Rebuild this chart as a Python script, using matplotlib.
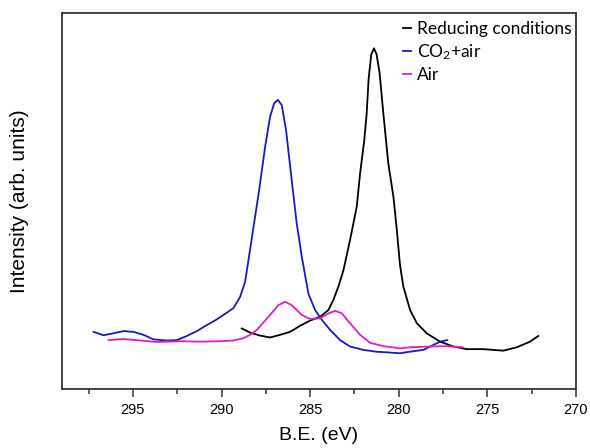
import matplotlib
matplotlib.use("Agg")
import matplotlib.pyplot as plt
from matplotlib.ticker import MultipleLocator, NullLocator

# ---- data ----
reducing_be = [288.86, 288.39, 287.82, 287.26, 286.70, 286.13, 285.57, 285.00, 284.44,
               283.97, 283.69, 283.41, 283.12, 282.75, 282.37, 282.18, 281.95, 281.81,
               281.70, 281.55, 281.40, 281.25, 281.08, 280.87, 280.59, 280.30, 280.11,
               279.93, 279.74, 279.36, 278.98, 278.42, 277.67, 276.92, 276.16, 275.23,
               274.10, 273.34, 272.59, 272.13]
reducing_int = [16.1, 15.0, 14.2, 13.7, 14.4, 15.2, 16.8, 18.2, 19.2,
                21.0, 23.7, 27.2, 31.6, 39.6, 48.5, 57.4, 66.0, 73.3,
                82.5, 89.0, 90.6, 89.0, 84.0, 73.3, 60.0, 51.1, 42.3,
                33.0, 27.2, 21.0, 17.5, 14.8, 12.6, 11.3, 10.6, 10.6,
                10.2, 11.1, 12.6, 14.1]

co2_be = [297.22, 296.66, 296.10, 295.53, 294.97, 294.40, 293.84, 293.09, 292.52,
          291.96, 291.39, 290.83, 290.27, 289.70, 289.33, 288.95, 288.67, 288.39,
          288.15, 287.92, 287.54, 287.26, 287.03, 286.82, 286.60, 286.36, 286.04,
          285.76, 285.47, 285.10, 284.72, 284.34, 283.87, 283.31, 282.75, 282.00,
          281.24, 280.49, 279.93, 279.55, 278.61, 278.05, 277.67, 277.26]
co2_int = [15.2, 14.3, 14.8, 15.4, 15.2, 14.4, 13.2, 12.9, 13.0,
           14.1, 15.4, 17.0, 18.5, 20.3, 21.5, 24.5, 28.5, 37.0,
           44.5, 51.5, 64.4, 72.4, 76.0, 76.9, 75.5, 68.9, 55.6,
           44.1, 35.2, 25.4, 21.0, 18.4, 15.7, 13.0, 11.3, 10.4,
           9.9, 9.7, 9.5, 9.8, 10.4, 11.7, 12.6, 13.0]

air_be = [296.38, 295.53, 294.59, 293.65, 292.33, 291.21, 290.08, 289.33, 288.77,
          288.39, 288.01, 287.26, 286.79, 286.41, 286.04, 285.47, 285.00, 284.44,
          283.97, 283.59, 283.21, 282.75, 282.18, 281.62, 280.87, 279.93, 279.36,
          278.23, 277.29, 276.39]
air_int = [13.0, 13.3, 12.9, 12.5, 12.7, 12.6, 12.7, 12.9, 13.5,
           14.4, 15.7, 19.7, 22.3, 23.2, 22.3, 19.7, 18.6, 18.8,
           20.1, 20.8, 20.1, 17.5, 14.4, 12.3, 11.4, 10.8, 11.1,
           11.3, 11.4, 11.1]

labels = ["Reducing conditions", "CO$_2$+air", "Air"]
colors = ["#000000", "#1818c8", "#e21cc4"]

plt.rcParams["font.family"] = ["Liberation Sans", "DejaVu Sans"]
plt.rcParams["mathtext.default"] = "regular"

fig = plt.figure(figsize=(5.9, 4.48), dpi=100)
ax = fig.add_axes([62 / 590, 1 - 389 / 448, 514 / 590, 376 / 448])

for be, inten, lab, c in zip([reducing_be, co2_be, air_be],
                             [reducing_int, co2_int, air_int], labels, colors):
    ax.plot(be, inten, color=c, lw=1.3, label=lab)

ax.set_xlim(299, 270)
ax.set_ylim(0, 100)
ax.xaxis.set_major_locator(MultipleLocator(5))
ax.xaxis.set_minor_locator(MultipleLocator(2.5))
ax.yaxis.set_major_locator(NullLocator())
ax.tick_params(axis="x", which="major", direction="out", length=6, width=1.1,
               labelsize=10.5, pad=4, color="#333333")
ax.tick_params(axis="x", which="minor", direction="out", length=3.5, width=1.1,
               color="#333333")
for s in ax.spines.values():
    s.set_linewidth(1.3)
    s.set_color("#333333")

ax.set_xlabel("B.E. (eV)", fontsize=14, labelpad=7)
ax.set_ylabel("Intensity (arb. units)", fontsize=15, labelpad=24)

leg = ax.legend(loc="upper left", bbox_to_anchor=(0.663, 0.978), frameon=False,
                handlelength=0.5, handletextpad=0.3, borderpad=0, borderaxespad=0,
                labelspacing=0.3, prop={"family": "Lato", "size": 12.5})

fig.savefig("out.png", dpi=100)
